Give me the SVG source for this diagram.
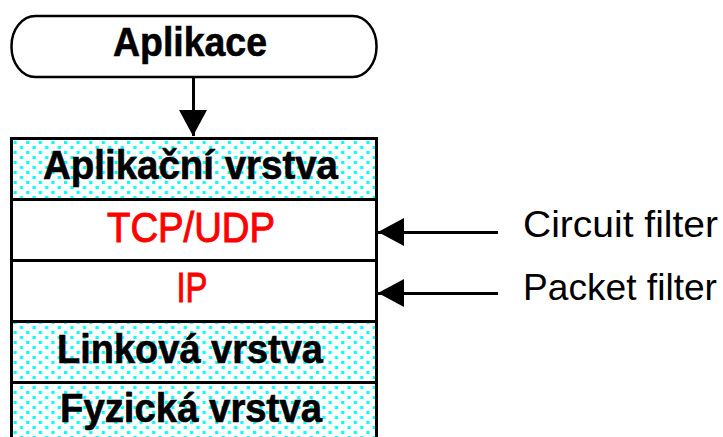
<svg xmlns="http://www.w3.org/2000/svg" width="723" height="437" viewBox="0 0 723 437">
  <style>
    .frame { fill: none; stroke: #000; stroke-width: 3; shape-rendering: crispEdges; }
    .conn { fill: none; stroke: #000; stroke-width: 3; shape-rendering: crispEdges; }
    .bold { font-family: "Liberation Sans", Arial, sans-serif; font-weight: bold; font-size: 40px; fill: #000; stroke: #000; stroke-width: 0.6; text-anchor: middle; }
    .proto { font-family: "Liberation Sans", Arial, sans-serif; font-size: 43px; fill: #ff0000; stroke: #ff0000; stroke-width: 1; text-anchor: middle; }
    .side { font-family: "Liberation Sans", Arial, sans-serif; font-size: 36px; fill: #000; }
  </style>
  <defs>
    <!-- dithered cyan dot fill used by the shaded layers -->
    <pattern id="dots" patternUnits="userSpaceOnUse" x="0" y="0" width="12.6" height="10">
      <rect width="12.6" height="10" fill="#fff"/>
      <rect x="1" y="1" width="3.2" height="3" fill="#00ffff"/>
      <rect x="7.3" y="6" width="3.2" height="3" fill="#00ffff"/>
    </pattern>
    <marker id="head" viewBox="0 0 26 28" refX="26" refY="14" markerWidth="26" markerHeight="28" markerUnits="userSpaceOnUse" orient="auto">
      <path d="M0,0 L26,14 L0,28 Z" fill="#000"/>
    </marker>
  </defs>

  <rect width="723" height="437" fill="#fff"/>

  <!-- application terminator -->
  <g id="aplikace">
    <rect x="11.5" y="16" width="365" height="61" rx="24" ry="30" fill="#fff" stroke="#000" stroke-width="2.5"/>
    <text class="bold" x="190" y="56" textLength="154" lengthAdjust="spacingAndGlyphs">Aplikace</text>
  </g>

  <!-- protocol stack layers -->
  <g id="layer-aplikacni">
    <rect x="11.5" y="138" width="364.5" height="61.5" fill="url(#dots)"/>
    <text class="bold" x="190.5" y="179" textLength="295" lengthAdjust="spacingAndGlyphs">Aplikační vrstva</text>
  </g>
  <g id="layer-tcpudp">
    <rect x="11.5" y="199.5" width="364.5" height="61" fill="#fff"/>
    <text class="proto" x="191" y="242" textLength="168" lengthAdjust="spacingAndGlyphs">TCP/UDP</text>
  </g>
  <g id="layer-ip">
    <rect x="11.5" y="260.5" width="364.5" height="61" fill="#fff"/>
    <text class="proto" x="192" y="302" textLength="31" lengthAdjust="spacingAndGlyphs">IP</text>
  </g>
  <g id="layer-linkova">
    <rect x="11.5" y="321.5" width="364.5" height="60.5" fill="url(#dots)"/>
    <text class="bold" x="190" y="362.5" textLength="266" lengthAdjust="spacingAndGlyphs">Linková vrstva</text>
  </g>
  <g id="layer-fyzicka">
    <rect x="11.5" y="382" width="364.5" height="60" fill="url(#dots)"/>
    <text class="bold" x="191" y="422" textLength="262" lengthAdjust="spacingAndGlyphs">Fyzická vrstva</text>
  </g>

  <!-- stack outline and layer dividers -->
  <g id="stack-frame">
    <path class="frame" d="M11.5,440 V138.5 H376 V440"/>
    <path class="frame" d="M11.5,199.5 H376 M11.5,260.5 H376 M11.5,321.5 H376 M11.5,382 H376"/>
  </g>

  <!-- filter labels -->
  <g id="circuit-filter">
    <text class="side" x="523" y="237" textLength="195" lengthAdjust="spacingAndGlyphs">Circuit filter</text>
  </g>
  <g id="packet-filter">
    <text class="side" x="523" y="300" textLength="194" lengthAdjust="spacingAndGlyphs">Packet filter</text>
  </g>

  <!-- connectors -->
  <g id="connectors">
    <line class="conn" x1="193" y1="77" x2="193" y2="136" marker-end="url(#head)"/>
    <line class="conn" x1="498" y1="232" x2="378" y2="232" marker-end="url(#head)"/>
    <line class="conn" x1="498" y1="293" x2="378" y2="293" marker-end="url(#head)"/>
  </g>
</svg>
